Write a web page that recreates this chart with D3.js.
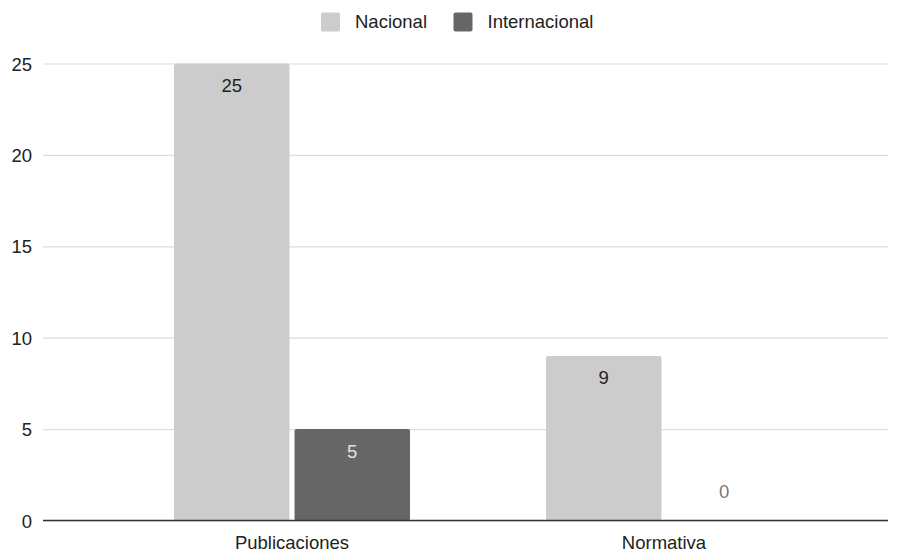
<!DOCTYPE html>
<html>
<head>
<meta charset="utf-8">
<script src="https://cdn.jsdelivr.net/npm/d3@7"></script>
<style>
  html, body { margin: 0; padding: 0; background: #fff; }
  svg { display: block; font-family: Arial, "Liberation Sans", sans-serif; }
</style>
</head>
<body>
<svg id="chart" width="902" height="552"></svg>
<script>
// Chart data
const categories = ["Publicaciones", "Normativa"];
const seriesNames = ["Nacional", "Internacional"];
const nacional = [25, 9];
const internacional = [5, 0];
const yTicks = [0, 5, 10, 15, 20, 25];

const seriesColors = { "Nacional": "#cccccc", "Internacional": "#666666" };
const labelColors = { "Nacional": "#222222", "Internacional": "#e2e2e2" };

const svg = d3.select("#chart");
const W = 902, H = 552;
const fontSize = 18.5;

// Plot geometry
const gridLeft = 43, gridRight = 888;
const y = d3.scaleLinear().domain([0, 25]).range([520.5, 63.5]);

const x0 = d3.scaleBand().domain(categories).range([106, 850]).paddingInner(0).paddingOuter(0);
const x1 = d3.scaleBand().domain(seriesNames).range([0, x0.bandwidth()])
  .paddingInner(0.042).paddingOuter(0.564);

// Gridlines + y labels via axis
const yAxis = d3.axisLeft(y).tickValues(yTicks)
  .tickSize(-(gridRight - gridLeft)).tickPadding(11).tickFormat(d3.format("d"));
const gAxis = svg.append("g").attr("transform", `translate(${gridLeft},0)`).call(yAxis);
gAxis.select(".domain").remove();
gAxis.selectAll(".tick line").attr("stroke", "#dddddd").attr("stroke-width", 1.2);
gAxis.selectAll(".tick text").attr("fill", "#222").attr("font-size", fontSize)
  .attr("font-family", "Arial, 'Liberation Sans', sans-serif").attr("dy", "0.36em");

// Bars
const rows = categories.map((c, i) => ({
  category: c,
  values: [
    { series: "Nacional", value: nacional[i] },
    { series: "Internacional", value: internacional[i] }
  ]
}));

const groups = svg.append("g").selectAll("g").data(rows).join("g")
  .attr("transform", d => `translate(${x0(d.category)},0)`);

groups.selectAll("rect").data(d => d.values).join("rect")
  .attr("x", d => x1(d.series))
  .attr("y", d => y(d.value))
  .attr("width", x1.bandwidth())
  .attr("height", d => y(0) - y(d.value))
  .attr("rx", 2)
  .attr("fill", d => seriesColors[d.series]);

// Value labels: inside the bar top when it fits, otherwise above
groups.selectAll("text.val").data(d => d.values).join("text")
  .attr("class", "val")
  .attr("x", d => x1(d.series) + x1.bandwidth() / 2)
  .attr("y", d => {
    const h = y(0) - y(d.value);
    return h > 40 ? y(d.value) + 28.5 : y(d.value) - 23;
  })
  .attr("text-anchor", "middle")
  .attr("font-size", fontSize)
  .attr("fill", d => (y(0) - y(d.value)) > 40 ? labelColors[d.series] : "#7a7a7a")
  .text(d => d.value);

// Baseline
svg.append("line")
  .attr("x1", gridLeft).attr("x2", gridRight)
  .attr("y1", y(0)).attr("y2", y(0))
  .attr("stroke", "#333").attr("stroke-width", 1.5);

// Category labels
svg.append("g").selectAll("text").data(categories).join("text")
  .attr("x", d => x0(d) + x0.bandwidth() / 2)
  .attr("y", 548.5)
  .attr("text-anchor", "middle")
  .attr("font-size", fontSize)
  .attr("fill", "#222")
  .text(d => d);

// Legend
const legend = svg.append("g");
const legendItems = [
  { name: "Nacional", x: 321 },
  { name: "Internacional", x: 453.5 }
];
const lg = legend.selectAll("g").data(legendItems).join("g")
  .attr("transform", d => `translate(${d.x},12.5)`);
lg.append("rect").attr("width", 19).attr("height", 19).attr("rx", 2)
  .attr("fill", d => seriesColors[d.name]);
lg.append("text").attr("x", 34).attr("y", 15.8)
  .attr("font-size", fontSize).attr("fill", "#222")
  .text(d => d.name);
</script>
</body>
</html>
